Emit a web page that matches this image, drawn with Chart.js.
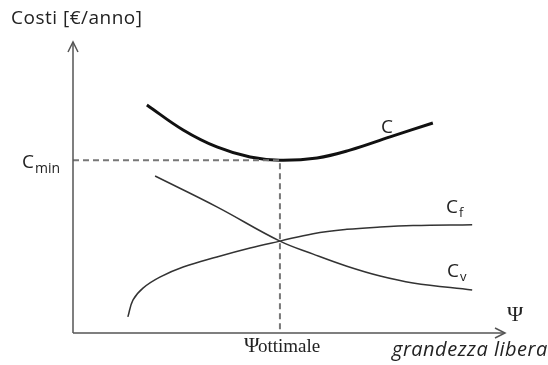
<!DOCTYPE html>
<html>
<head>
<meta charset="utf-8">
<script src="https://cdn.jsdelivr.net/npm/chart.js@4"></script>
<style>
  html, body { margin: 0; padding: 0; background: #fff; }
  #wrap { width: 548px; height: 365px; position: relative; }
</style>
</head>
<body>
<div id="wrap"><canvas id="costChart"></canvas></div>
<script>
// curve values (x = grandezza libera, y = costi, arbitrary units 0-10)
const cTotX = [1.71, 2.55, 3.33, 4.10, 4.79, 5.65, 6.41, 7.34, 8.33];
const cTotY = [7.92, 7.05, 6.46, 6.11, 6.00, 6.08, 6.35, 6.81, 7.29];

const cFixX = [1.27, 1.39, 1.62, 2.01, 2.55, 3.33, 4.10, 4.79, 5.56, 6.34, 7.11, 7.87, 9.24];
const cFixY = [0.56, 1.15, 1.56, 1.94, 2.29, 2.64, 2.95, 3.19, 3.45, 3.60, 3.68, 3.73, 3.76];

const cVarX = [1.90, 3.33, 4.79, 5.56, 6.34, 7.11, 7.87, 9.24];
const cVarY = [5.45, 4.38, 3.19, 2.74, 2.32, 1.98, 1.74, 1.49];

const psiOpt = 4.79;
const cMin = 6.0;

function pts(xs, ys) {
  return xs.map((x, i) => ({ x, y: ys[i] }));
}

// axes with arrows, guide labels
const decorPlugin = {
  id: "decor",
  afterDatasetsDraw(chart) {
    const { ctx, chartArea: a, scales } = chart;
    const x0 = scales.x.getPixelForValue(0);
    const y0 = scales.y.getPixelForValue(0);
    ctx.save();
    ctx.strokeStyle = "#555";
    ctx.lineWidth = 1.5;
    ctx.beginPath();
    ctx.moveTo(x0, y0);
    ctx.lineTo(x0, a.top - 3);
    ctx.moveTo(x0, y0);
    ctx.lineTo(a.right, y0);
    ctx.stroke();
    // open arrow heads
    ctx.beginPath();
    ctx.moveTo(x0 - 5, a.top + 7);
    ctx.lineTo(x0, a.top - 3);
    ctx.lineTo(x0 + 5, a.top + 7);
    ctx.moveTo(a.right - 10, y0 - 5);
    ctx.lineTo(a.right, y0);
    ctx.lineTo(a.right - 10, y0 + 5);
    ctx.stroke();

    ctx.fillStyle = "#222";
    ctx.textBaseline = "alphabetic";
    ctx.textAlign = "left";
    ctx.letterSpacing = "0.5px";
    ctx.font = "19px 'Open Sans'";
    ctx.fillText("Costi [€/anno]", 11, 24);
    ctx.letterSpacing = "0px";

    const yMin = scales.y.getPixelForValue(cMin);
    ctx.font = "19px 'Open Sans'";
    ctx.fillText("C", 22, yMin + 8);
    ctx.font = "14px 'Open Sans'";
    ctx.fillText("min", 35, yMin + 13);

    ctx.font = "19px 'Open Sans'";
    ctx.fillText("C", 381, 133);
    ctx.fillText("C", 446, 213);
    ctx.fillText("C", 447, 277);
    ctx.font = "13px 'Open Sans'";
    ctx.fillText("f", 459, 217);
    ctx.fillText("v", 460, 281);

    ctx.font = "22px 'Liberation Serif'";
    ctx.fillText("Ψ", 507, 321);
    const xo = scales.x.getPixelForValue(psiOpt);
    ctx.font = "21px 'Liberation Serif'";
    ctx.fillText("Ψ", xo - 36, 352);
    ctx.font = "19px 'Liberation Serif'";
    ctx.fillText("ottimale", xo - 22, 352);

    ctx.letterSpacing = "0.5px";
    ctx.font = "italic 20px 'Open Sans'";
    ctx.fillText("grandezza libera", 392, 356);
    ctx.restore();
  }
};

new Chart(document.getElementById("costChart"), {
  type: "scatter",
  data: {
    datasets: [
      {
        label: "guide",
        data: [{ x: 0, y: cMin }, { x: psiOpt, y: cMin }, { x: psiOpt, y: 0 }],
        showLine: true,
        borderColor: "#777",
        borderWidth: 2,
        borderDash: [6, 4],
        pointRadius: 0,
        tension: 0
      },
      {
        label: "C",
        data: pts(cTotX, cTotY),
        showLine: true,
        borderColor: "#111",
        borderWidth: 3,
        pointRadius: 0,
        tension: 0.4
      },
      {
        label: "Cf",
        data: pts(cFixX, cFixY),
        showLine: true,
        borderColor: "#333",
        borderWidth: 1.5,
        pointRadius: 0,
        tension: 0.4
      },
      {
        label: "Cv",
        data: pts(cVarX, cVarY),
        showLine: true,
        borderColor: "#333",
        borderWidth: 1.5,
        pointRadius: 0,
        tension: 0.4
      }
    ]
  },
  options: {
    responsive: true,
    maintainAspectRatio: false,
    animation: false,
    layout: { padding: { left: 73, right: 43, top: 45, bottom: 32 } },
    scales: {
      x: { type: "linear", min: 0, max: 10, display: false },
      y: { type: "linear", min: 0, max: 10, display: false }
    },
    plugins: {
      legend: { display: false },
      tooltip: { enabled: false }
    }
  },
  plugins: [decorPlugin]
});
</script>
</body>
</html>
